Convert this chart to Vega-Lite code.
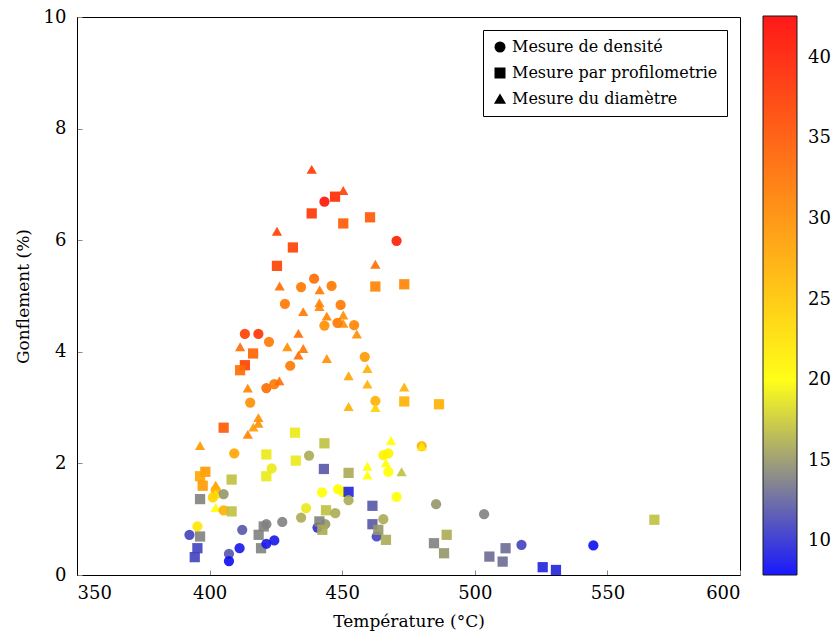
{
  "$schema": "https://vega.github.io/schema/vega-lite/v6.json",
  "width": 663,
  "height": 558,
  "autosize": {"type": "none"},
  "padding": {"left": 77, "top": 17, "right": 92, "bottom": 60},
  "config": {
    "font": "DejaVu Serif",
    "view": {"stroke": "black", "strokeWidth": 1},
    "axis": {"grid": false, "domainColor": "black", "tickColor": "#888888", "tickSize": -5, "labelColor": "black", "titleColor": "black", "labelFontSize": 18, "titleFontSize": 17, "titleFontWeight": "normal", "labelFont": "DejaVu Serif", "titleFont": "DejaVu Serif"}
  },
  "data": {"values": [
    {"m": "Mesure du diamètre", "t": 438.5, "g": 7.27, "c": 38},
    {"m": "Mesure de densité", "t": 443.3, "g": 6.69, "c": 41},
    {"m": "Mesure par profilometrie", "t": 438.5, "g": 6.48, "c": 38},
    {"m": "Mesure du diamètre", "t": 425.4, "g": 6.16, "c": 37},
    {"m": "Mesure par profilometrie", "t": 431.4, "g": 5.87, "c": 37},
    {"m": "Mesure par profilometrie", "t": 425.4, "g": 5.54, "c": 37},
    {"m": "Mesure par profilometrie", "t": 447.3, "g": 6.78, "c": 39},
    {"m": "Mesure du diamètre", "t": 450.4, "g": 6.89, "c": 37},
    {"m": "Mesure par profilometrie", "t": 450.4, "g": 6.30, "c": 35},
    {"m": "Mesure par profilometrie", "t": 460.5, "g": 6.41, "c": 35},
    {"m": "Mesure de densité", "t": 470.5, "g": 5.99, "c": 40},
    {"m": "Mesure du diamètre", "t": 462.5, "g": 5.57, "c": 33},
    {"m": "Mesure par profilometrie", "t": 462.5, "g": 5.17, "c": 31},
    {"m": "Mesure par profilometrie", "t": 473.4, "g": 5.21, "c": 31},
    {"m": "Mesure de densité", "t": 446.0, "g": 5.18, "c": 32},
    {"m": "Mesure du diamètre", "t": 426.4, "g": 5.18, "c": 33},
    {"m": "Mesure de densité", "t": 434.5, "g": 5.16, "c": 32},
    {"m": "Mesure de densité", "t": 439.4, "g": 5.31, "c": 33},
    {"m": "Mesure du diamètre", "t": 441.5, "g": 5.11, "c": 32},
    {"m": "Mesure de densité", "t": 428.4, "g": 4.86, "c": 32},
    {"m": "Mesure du diamètre", "t": 435.3, "g": 4.72, "c": 32},
    {"m": "Mesure du diamètre", "t": 441.4, "g": 4.88, "c": 31},
    {"m": "Mesure du diamètre", "t": 441.4, "g": 4.81, "c": 31},
    {"m": "Mesure du diamètre", "t": 444.2, "g": 4.64, "c": 31},
    {"m": "Mesure de densité", "t": 443.3, "g": 4.47, "c": 30},
    {"m": "Mesure de densité", "t": 413.3, "g": 4.32, "c": 37},
    {"m": "Mesure de densité", "t": 418.4, "g": 4.32, "c": 38},
    {"m": "Mesure de densité", "t": 422.4, "g": 4.18, "c": 32},
    {"m": "Mesure du diamètre", "t": 411.5, "g": 4.09, "c": 33},
    {"m": "Mesure par profilometrie", "t": 416.4, "g": 3.97, "c": 34},
    {"m": "Mesure du diamètre", "t": 429.3, "g": 4.09, "c": 30},
    {"m": "Mesure du diamètre", "t": 433.5, "g": 4.33, "c": 33},
    {"m": "Mesure du diamètre", "t": 435.3, "g": 4.06, "c": 32},
    {"m": "Mesure du diamètre", "t": 433.5, "g": 3.94, "c": 33},
    {"m": "Mesure par profilometrie", "t": 413.3, "g": 3.76, "c": 37},
    {"m": "Mesure par profilometrie", "t": 411.5, "g": 3.67, "c": 33},
    {"m": "Mesure de densité", "t": 430.4, "g": 3.75, "c": 32},
    {"m": "Mesure du diamètre", "t": 444.2, "g": 3.88, "c": 30},
    {"m": "Mesure du diamètre", "t": 414.4, "g": 3.35, "c": 31},
    {"m": "Mesure de densité", "t": 421.4, "g": 3.35, "c": 33},
    {"m": "Mesure de densité", "t": 424.4, "g": 3.42, "c": 32},
    {"m": "Mesure du diamètre", "t": 426.3, "g": 3.48, "c": 33},
    {"m": "Mesure de densité", "t": 415.3, "g": 3.09, "c": 30},
    {"m": "Mesure du diamètre", "t": 418.4, "g": 2.82, "c": 30},
    {"m": "Mesure du diamètre", "t": 418.4, "g": 2.72, "c": 30},
    {"m": "Mesure du diamètre", "t": 416.5, "g": 2.65, "c": 29},
    {"m": "Mesure du diamètre", "t": 414.4, "g": 2.52, "c": 31},
    {"m": "Mesure par profilometrie", "t": 405.3, "g": 2.64, "c": 35},
    {"m": "Mesure par profilometrie", "t": 432.2, "g": 2.55, "c": 19},
    {"m": "Mesure de densité", "t": 449.4, "g": 4.84, "c": 32},
    {"m": "Mesure du diamètre", "t": 450.4, "g": 4.66, "c": 30},
    {"m": "Mesure du diamètre", "t": 450.4, "g": 4.51, "c": 30},
    {"m": "Mesure de densité", "t": 448.2, "g": 4.52, "c": 32},
    {"m": "Mesure de densité", "t": 454.5, "g": 4.48, "c": 31},
    {"m": "Mesure du diamètre", "t": 455.5, "g": 4.32, "c": 30},
    {"m": "Mesure de densité", "t": 458.5, "g": 3.91, "c": 29},
    {"m": "Mesure du diamètre", "t": 459.5, "g": 3.70, "c": 27},
    {"m": "Mesure du diamètre", "t": 452.4, "g": 3.57, "c": 28},
    {"m": "Mesure du diamètre", "t": 459.5, "g": 3.42, "c": 27},
    {"m": "Mesure du diamètre", "t": 473.4, "g": 3.37, "c": 27},
    {"m": "Mesure par profilometrie", "t": 473.4, "g": 3.11, "c": 27},
    {"m": "Mesure par profilometrie", "t": 486.5, "g": 3.06, "c": 27},
    {"m": "Mesure de densité", "t": 462.5, "g": 3.12, "c": 27},
    {"m": "Mesure du diamètre", "t": 462.5, "g": 3.00, "c": 24},
    {"m": "Mesure du diamètre", "t": 452.4, "g": 3.02, "c": 27},
    {"m": "Mesure du diamètre", "t": 468.4, "g": 2.41, "c": 20},
    {"m": "Mesure du diamètre", "t": 396.4, "g": 2.32, "c": 29},
    {"m": "Mesure de densité", "t": 409.3, "g": 2.18, "c": 28},
    {"m": "Mesure par profilometrie", "t": 421.4, "g": 2.16, "c": 19},
    {"m": "Mesure par profilometrie", "t": 432.5, "g": 2.05, "c": 19},
    {"m": "Mesure de densité", "t": 437.5, "g": 2.14, "c": 16},
    {"m": "Mesure par profilometrie", "t": 443.3, "g": 2.36, "c": 17},
    {"m": "Mesure de densité", "t": 423.4, "g": 1.91, "c": 19},
    {"m": "Mesure par profilometrie", "t": 421.4, "g": 1.77, "c": 19},
    {"m": "Mesure par profilometrie", "t": 398.4, "g": 1.85, "c": 29},
    {"m": "Mesure par profilometrie", "t": 396.4, "g": 1.77, "c": 28},
    {"m": "Mesure par profilometrie", "t": 397.4, "g": 1.60, "c": 29},
    {"m": "Mesure par profilometrie", "t": 408.3, "g": 1.71, "c": 17},
    {"m": "Mesure du diamètre", "t": 402.3, "g": 1.61, "c": 29},
    {"m": "Mesure de densité", "t": 402.3, "g": 1.52, "c": 27},
    {"m": "Mesure du diamètre", "t": 402.3, "g": 1.45, "c": 22},
    {"m": "Mesure de densité", "t": 401.2, "g": 1.39, "c": 24},
    {"m": "Mesure de densité", "t": 405.3, "g": 1.45, "c": 15},
    {"m": "Mesure par profilometrie", "t": 396.4, "g": 1.36, "c": 14},
    {"m": "Mesure du diamètre", "t": 402.3, "g": 1.21, "c": 20},
    {"m": "Mesure de densité", "t": 405.3, "g": 1.16, "c": 27},
    {"m": "Mesure par profilometrie", "t": 408.3, "g": 1.14, "c": 17},
    {"m": "Mesure de densité", "t": 442.4, "g": 1.48, "c": 20},
    {"m": "Mesure de densité", "t": 436.4, "g": 1.20, "c": 19},
    {"m": "Mesure par profilometrie", "t": 443.9, "g": 1.16, "c": 17},
    {"m": "Mesure de densité", "t": 434.5, "g": 1.03, "c": 16},
    {"m": "Mesure de densité", "t": 427.4, "g": 0.95, "c": 14},
    {"m": "Mesure de densité", "t": 421.4, "g": 0.91, "c": 14},
    {"m": "Mesure par profilometrie", "t": 420.4, "g": 0.87, "c": 14},
    {"m": "Mesure de densité", "t": 440.7, "g": 0.85, "c": 10},
    {"m": "Mesure de densité", "t": 443.6, "g": 0.91, "c": 15},
    {"m": "Mesure par profilometrie", "t": 441.4, "g": 0.96, "c": 14},
    {"m": "Mesure par profilometrie", "t": 442.5, "g": 0.81, "c": 16},
    {"m": "Mesure de densité", "t": 412.3, "g": 0.81, "c": 12},
    {"m": "Mesure de densité", "t": 395.4, "g": 0.87, "c": 22},
    {"m": "Mesure de densité", "t": 392.4, "g": 0.72, "c": 11},
    {"m": "Mesure par profilometrie", "t": 396.4, "g": 0.69, "c": 14},
    {"m": "Mesure par profilometrie", "t": 418.5, "g": 0.72, "c": 14},
    {"m": "Mesure par profilometrie", "t": 419.4, "g": 0.48, "c": 14},
    {"m": "Mesure de densité", "t": 421.4, "g": 0.56, "c": 9},
    {"m": "Mesure de densité", "t": 424.4, "g": 0.62, "c": 9},
    {"m": "Mesure de densité", "t": 411.3, "g": 0.48, "c": 9},
    {"m": "Mesure par profilometrie", "t": 395.4, "g": 0.48, "c": 11},
    {"m": "Mesure par profilometrie", "t": 394.4, "g": 0.32, "c": 11},
    {"m": "Mesure de densité", "t": 407.3, "g": 0.38, "c": 12},
    {"m": "Mesure de densité", "t": 407.3, "g": 0.25, "c": 8.5},
    {"m": "Mesure de densité", "t": 480.0, "g": 2.31, "c": 27},
    {"m": "Mesure du diamètre", "t": 480.0, "g": 2.31, "c": 22},
    {"m": "Mesure de densité", "t": 465.5, "g": 2.15, "c": 21},
    {"m": "Mesure de densité", "t": 467.4, "g": 2.18, "c": 21},
    {"m": "Mesure du diamètre", "t": 466.5, "g": 2.18, "c": 21},
    {"m": "Mesure du diamètre", "t": 466.5, "g": 2.01, "c": 20},
    {"m": "Mesure du diamètre", "t": 459.5, "g": 1.95, "c": 20},
    {"m": "Mesure du diamètre", "t": 459.5, "g": 1.79, "c": 20},
    {"m": "Mesure de densité", "t": 467.4, "g": 1.85, "c": 20},
    {"m": "Mesure du diamètre", "t": 472.4, "g": 1.85, "c": 17},
    {"m": "Mesure par profilometrie", "t": 452.4, "g": 1.83, "c": 16},
    {"m": "Mesure par profilometrie", "t": 443.1, "g": 1.90, "c": 12},
    {"m": "Mesure de densité", "t": 448.4, "g": 1.54, "c": 20},
    {"m": "Mesure de densité", "t": 450.3, "g": 1.49, "c": 20},
    {"m": "Mesure par profilometrie", "t": 452.4, "g": 1.49, "c": 9.5},
    {"m": "Mesure de densité", "t": 452.4, "g": 1.34, "c": 16},
    {"m": "Mesure de densité", "t": 470.5, "g": 1.40, "c": 20},
    {"m": "Mesure par profilometrie", "t": 461.4, "g": 1.24, "c": 12},
    {"m": "Mesure de densité", "t": 485.4, "g": 1.27, "c": 15},
    {"m": "Mesure de densité", "t": 447.4, "g": 1.11, "c": 16},
    {"m": "Mesure de densité", "t": 465.5, "g": 1.00, "c": 16},
    {"m": "Mesure par profilometrie", "t": 461.4, "g": 0.91, "c": 12},
    {"m": "Mesure de densité", "t": 463.0, "g": 0.69, "c": 11},
    {"m": "Mesure par profilometrie", "t": 463.6, "g": 0.81, "c": 15},
    {"m": "Mesure par profilometrie", "t": 466.5, "g": 0.63, "c": 16},
    {"m": "Mesure par profilometrie", "t": 489.4, "g": 0.72, "c": 16},
    {"m": "Mesure par profilometrie", "t": 484.6, "g": 0.57, "c": 14},
    {"m": "Mesure par profilometrie", "t": 488.4, "g": 0.39, "c": 15},
    {"m": "Mesure de densité", "t": 503.5, "g": 1.09, "c": 14},
    {"m": "Mesure par profilometrie", "t": 567.7, "g": 0.99, "c": 17},
    {"m": "Mesure de densité", "t": 517.6, "g": 0.54, "c": 11},
    {"m": "Mesure de densité", "t": 544.7, "g": 0.53, "c": 8.5},
    {"m": "Mesure par profilometrie", "t": 511.6, "g": 0.48, "c": 13},
    {"m": "Mesure par profilometrie", "t": 505.5, "g": 0.33, "c": 13},
    {"m": "Mesure par profilometrie", "t": 510.5, "g": 0.24, "c": 13},
    {"m": "Mesure par profilometrie", "t": 525.6, "g": 0.14, "c": 9.5},
    {"m": "Mesure par profilometrie", "t": 530.6, "g": 0.09, "c": 9.5}
  ]},
  "mark": {"type": "point", "filled": true, "size": 105, "opacity": 0.9},
  "encoding": {
    "x": {"field": "t", "type": "quantitative", "title": "Température (°C)",
          "scale": {"domain": [350, 600], "nice": false, "zero": false},
          "axis": {"values": [350, 400, 450, 500, 550, 600], "labelPadding": 14, "titlePadding": 11}},
    "y": {"field": "g", "type": "quantitative", "title": "Gonflement (%)",
          "scale": {"domain": [0, 10], "nice": false},
          "axis": {"values": [0, 2, 4, 6, 8, 10], "labelPadding": 16, "titlePadding": 11}},
    "shape": {"field": "m", "type": "nominal",
              "scale": {"domain": ["Mesure de densité", "Mesure par profilometrie", "Mesure du diamètre"], "range": ["circle", "square", "triangle-up"]},
              "legend": {"title": null, "orient": "top-right", "offset": 13, "strokeColor": "black", "fillColor": "white", "padding": 9, "symbolFillColor": "black", "symbolStrokeColor": "black", "symbolOpacity": 1, "symbolSize": 90, "labelFontSize": 16, "labelFont": "DejaVu Serif", "labelColor": "black", "rowPadding": 10, "labelLimit": 400}},
    "color": {"field": "c", "type": "quantitative",
              "scale": {"domain": [7.9, 20, 42.6], "range": ["#0000ff", "#ffff00", "#ff0000"], "interpolate": "rgb"},
              "legend": {"title": null, "orient": "none", "legendX": 686, "legendY": -1, "direction": "vertical", "gradientLength": 559, "gradientThickness": 34, "gradientStrokeColor": "black", "gradientStrokeWidth": 1, "values": [10, 15, 20, 25, 30, 35, 40], "labelFontSize": 18, "labelFont": "DejaVu Serif", "labelColor": "black", "labelOffset": 11, "tickCount": 7}}
  }
}
